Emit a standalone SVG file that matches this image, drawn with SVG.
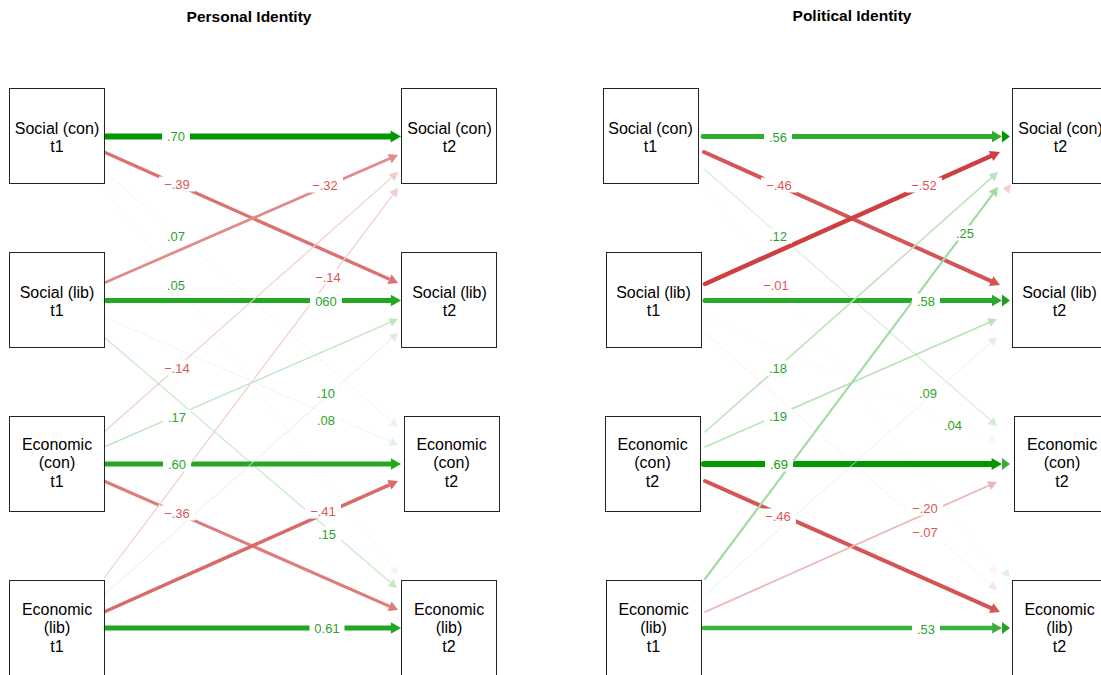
<svg xmlns="http://www.w3.org/2000/svg" width="1101" height="675" viewBox="0 0 1101 675">
<style>
 .node rect{fill:#fff;stroke:#222;stroke-width:1}
 .node text{font-family:"Liberation Sans",Arial,sans-serif;font-size:16px;text-anchor:middle;fill:#000}
 .title{font-family:"Liberation Sans",Arial,sans-serif;font-size:15.5px;font-weight:bold;text-anchor:middle;fill:#000}
 .lbl rect{fill:#fff}
 .lbl text{font-family:"Liberation Sans",Arial,sans-serif;font-size:13px;text-anchor:middle}
 .g{fill:#2ba32b}
 .gd{fill:#139b13}
 .r{fill:#de5656}
 .rc line{stroke-linecap:round}
</style>
<rect width="1101" height="675" fill="#fff"/>
<text class="title" x="249" y="22">Personal Identity</text>
<text class="title" x="852" y="21">Political Identity</text>

<g id="connectors">
 <g id="edges-personal">
  <line x1="104" y1="136.5" x2="391" y2="136.5" stroke="#009900" stroke-width="6"/><polygon points="401,136.5 390.6,130.5 390.6,142.5" fill="#009900"/>
  <line x1="104" y1="152" x2="389.5" y2="279.2" stroke="rgb(219,113,113)" stroke-width="3.34"/><polygon points="398,283 387.4,284 391.6,274.5" fill="rgb(219,113,113)"/>
  <line x1="104" y1="171" x2="391.7" y2="421.6" stroke="rgb(230,245,230)" stroke-width="0.7"/><polygon points="398,427 388.8,424.9 394.6,418.3" fill="rgb(230,245,230)"/>
  <line x1="104" y1="187" x2="393" y2="568.4" stroke="rgb(237,248,237)" stroke-width="0.7"/><polygon points="398,575 389.5,571.1 396.5,565.7" fill="rgb(237,248,237)"/>
  <line x1="104" y1="283" x2="389.7" y2="158.6" stroke="rgb(226,138,138)" stroke-width="2.74"/><polygon points="398,155 391.7,163.2 387.7,154" fill="rgb(226,138,138)"/>
  <line x1="104" y1="300.5" x2="391" y2="300.5" stroke="rgb(36,168,36)" stroke-width="5.14"/><polygon points="401,300.5 390.9,294.8 390.9,306.2" fill="rgb(36,168,36)"/>
  <line x1="104" y1="317" x2="390.4" y2="441.7" stroke="rgb(226,243,226)" stroke-width="0.7"/><polygon points="398,445 388.6,445.7 392.2,437.7" fill="rgb(226,243,226)"/>
  <line x1="104" y1="337" x2="390.5" y2="582.5" stroke="rgb(200,233,200)" stroke-width="1.29"/><polygon points="397,588 387.5,586 393.5,579" fill="rgb(200,233,200)"/>
  <line x1="104" y1="432" x2="391.6" y2="177.6" stroke="rgb(242,204,204)" stroke-width="1.2"/><polygon points="398,172 394.7,181.1 388.6,174.2" fill="rgb(242,204,204)"/>
  <line x1="104" y1="447" x2="390.1" y2="322.4" stroke="rgb(193,230,193)" stroke-width="1.46"/><polygon points="398,319 391.9,326.6 388.3,318.2" fill="rgb(193,230,193)"/>
  <line x1="104" y1="464" x2="391" y2="464" stroke="rgb(36,168,36)" stroke-width="5.14"/><polygon points="401,464 390.9,458.3 390.9,469.7" fill="rgb(36,168,36)"/>
  <line x1="104" y1="481" x2="389.6" y2="606.3" stroke="rgb(222,124,124)" stroke-width="3.09"/><polygon points="398,610 387.5,611 391.6,601.6" fill="rgb(222,124,124)"/>
  <line x1="104" y1="578" x2="392.9" y2="194.8" stroke="rgb(242,204,204)" stroke-width="1.2"/><polygon points="398,188 396.6,197.6 389.2,192" fill="rgb(242,204,204)"/>
  <line x1="104" y1="595" x2="391.8" y2="338.5" stroke="rgb(219,240,219)" stroke-width="0.86"/><polygon points="398,333 394.8,341.9 388.8,335.1" fill="rgb(219,240,219)"/>
  <line x1="104" y1="612" x2="389.4" y2="484.8" stroke="rgb(218,106,106)" stroke-width="3.5"/><polygon points="398,481 391.5,489.6 387.3,480" fill="rgb(218,106,106)"/>
  <line x1="104" y1="628" x2="391" y2="628" stroke="rgb(33,166,33)" stroke-width="5.23"/><polygon points="401,628 390.9,622.2 390.9,633.8" fill="rgb(33,166,33)"/>
 </g>
 <g id="edges-political" class="rc">
  <line x1="703" y1="136.5" x2="992" y2="136.5" stroke="rgb(48,172,48)" stroke-width="4.87"/><polygon points="1002,136.5 992,130.8 992,142.2" fill="rgb(48,172,48)"/><polygon points="1010,136.5 1002,130.5 1002,142.5" fill="#009900"/>
  <line x1="704" y1="152" x2="991.2" y2="281.1" stroke="rgb(212,85,85)" stroke-width="4"/><polygon points="1000,285 989,286 993.4,276.2" fill="rgb(212,85,85)"/>
  <line x1="704" y1="169" x2="990.7" y2="420.5" stroke="rgb(211,237,211)" stroke-width="1.04"/><polygon points="997,426 987.7,423.9 993.7,417.1" fill="rgb(211,237,211)"/>
  <line x1="704" y1="186" x2="992.1" y2="567.5" stroke="rgb(250,244,244)" stroke-width="0.5"/><polygon points="997,574 988.6,570.1 995.5,564.9" fill="rgb(250,244,244)"/>
  <line x1="705" y1="284" x2="991" y2="156" stroke="rgb(207,63,63)" stroke-width="4.52"/><polygon points="1000,152 993.3,161.1 988.8,150.9" fill="rgb(207,63,63)"/>
  <line x1="705" y1="300.5" x2="992" y2="300.5" stroke="rgb(41,169,41)" stroke-width="5.04"/><polygon points="1002,300.5 992,294.8 992,306.2" fill="rgb(41,169,41)"/><polygon points="1010,300.5 1002,294.5 1002,306.5" fill="#1f9f1f"/>
  <line x1="705" y1="317" x2="989.5" y2="439.8" stroke="rgb(240,249,240)" stroke-width="0.6"/><polygon points="997,443 987.7,443.8 991.2,435.7" fill="rgb(240,249,240)"/>
  <line x1="705" y1="333" x2="990.8" y2="584.6" stroke="rgb(249,229,229)" stroke-width="0.61"/><polygon points="997,590 987.9,587.9 993.7,581.3" fill="rgb(249,229,229)"/>
  <line x1="705" y1="432" x2="991.6" y2="177.7" stroke="rgb(188,228,188)" stroke-width="1.57"/><polygon points="998,172 994.7,181.2 988.5,174.2" fill="rgb(188,228,188)"/>
  <line x1="705" y1="447" x2="989" y2="322.5" stroke="rgb(185,227,185)" stroke-width="1.65"/><polygon points="997,319 990.9,326.8 987.1,318.2" fill="rgb(185,227,185)"/>
  <line x1="704" y1="464" x2="991.6" y2="464" stroke="#009900" stroke-width="6"/><polygon points="1002,464 991.6,458 991.6,470" fill="#009900"/><polygon points="1010,464 1002,458 1002,470" fill="#3aae3a"/>
  <line x1="705" y1="481" x2="991.2" y2="608.1" stroke="rgb(212,85,85)" stroke-width="4"/><polygon points="1000,612 989,613 993.4,603.2" fill="rgb(212,85,85)"/>
  <line x1="705" y1="579" x2="992.7" y2="194.1" stroke="rgb(163,218,163)" stroke-width="2.17"/><polygon points="998,187 996.6,197 988.8,191.2" fill="rgb(163,218,163)"/>
  <line x1="705" y1="595" x2="990.8" y2="342.5" stroke="rgb(222,242,222)" stroke-width="0.78"/><polygon points="997,337 993.7,345.8 987.9,339.2" fill="rgb(222,242,222)"/>
  <line x1="705" y1="612" x2="989" y2="485.5" stroke="rgb(236,181,181)" stroke-width="1.74"/><polygon points="997,482 990.9,489.8 987.1,481.2" fill="rgb(236,181,181)"/>
  <line x1="704" y1="628" x2="992.2" y2="628" stroke="rgb(59,177,59)" stroke-width="4.6"/><polygon points="1002,628 992.2,622.4 992.2,633.6" fill="rgb(59,177,59)"/><polygon points="1010,628 1002,622 1002,634" fill="#22a322"/>
  <polygon points="1011,184 1009.4,193.4 1002.4,188.2" fill="rgb(245,205,205)"/>
  <polygon points="1010,578 1001.4,573.8 1008.4,568.6" fill="rgb(225,242,225)"/>
 </g>
 <g id="edge-labels" class="lbl">
  <rect x="162" y="129" width="28" height="15"/><text class="g" x="176" y="141.1">.70</text>
  <rect x="159" y="176.5" width="36" height="15"/><text class="r" x="177" y="188.6">−.39</text>
  <rect x="162" y="228.5" width="28" height="15"/><text class="g" x="176" y="240.6">.07</text>
  <rect x="162" y="277.5" width="28" height="15"/><text class="g" x="176" y="289.6">.05</text>
  <rect x="307" y="177.5" width="36" height="15"/><text class="r" x="325" y="189.6">−.32</text>
  <rect x="310" y="293.5" width="32" height="15"/><text class="g" x="326" y="305.6">060</text>
  <rect x="312" y="412.5" width="28" height="15"/><text class="g" x="326" y="424.6">.08</text>
  <rect x="313" y="526.5" width="28" height="15"/><text class="g" x="327" y="538.6">.15</text>
  <rect x="159" y="360.5" width="36" height="15"/><text class="r" x="177" y="372.6">−.14</text>
  <rect x="163" y="409.5" width="28" height="15"/><text class="g" x="177" y="421.6">.17</text>
  <rect x="163" y="456.5" width="28" height="15"/><text class="g" x="177" y="468.6">.60</text>
  <rect x="159" y="505.5" width="36" height="15"/><text class="r" x="177" y="517.6">−.36</text>
  <rect x="310" y="269.5" width="36" height="15"/><text class="r" x="328" y="281.6">−.14</text>
  <rect x="312" y="385.5" width="28" height="15"/><text class="g" x="326" y="397.6">.10</text>
  <rect x="305" y="503.5" width="36" height="15"/><text class="r" x="323" y="515.6">−.41</text>
  <rect x="309.5" y="620.5" width="35" height="15"/><text class="g" x="327" y="632.6">0.61</text>

  <rect x="764" y="129.5" width="28" height="15"/><text class="g" x="778" y="141.6">.56</text>
  <rect x="761" y="177.5" width="36" height="15"/><text class="r" x="779" y="189.6">−.46</text>
  <rect x="764" y="228.5" width="28" height="15"/><text class="g" x="778" y="240.6">.12</text>
  <rect x="758" y="277.5" width="36" height="15"/><text class="r" x="776" y="289.6">−.01</text>
  <rect x="906" y="177.5" width="36" height="15"/><text class="r" x="924" y="189.6">−.52</text>
  <rect x="912" y="293.5" width="28" height="15"/><text class="g" x="926" y="305.6">.58</text>
  <rect x="939" y="417.5" width="28" height="15"/><text class="g" x="953" y="429.6">.04</text>
  <rect x="907" y="524.5" width="36" height="15"/><text class="r" x="925" y="536.6">−.07</text>
  <rect x="764" y="360.5" width="28" height="15"/><text class="g" x="778" y="372.6">.18</text>
  <rect x="764" y="408.5" width="28" height="15"/><text class="g" x="778" y="420.6">.19</text>
  <rect x="765" y="456.5" width="28" height="15"/><text class="gd" x="779" y="468.6">.69</text>
  <rect x="760" y="508.5" width="36" height="15"/><text class="r" x="778" y="520.6">−.46</text>
  <rect x="951" y="225.5" width="28" height="15"/><text class="g" x="965" y="237.6">.25</text>
  <rect x="914" y="385.5" width="28" height="15"/><text class="g" x="928" y="397.6">.09</text>
  <rect x="907" y="500.5" width="36" height="15"/><text class="r" x="925" y="512.6">−.20</text>
  <rect x="912" y="621.5" width="28" height="15"/><text class="g" x="926" y="633.6">.53</text>
 </g>
</g>

<g id="p-social-con-t1" class="node"><rect x="9.5" y="88.5" width="95" height="95"/><text x="57" y="134">Social (con)</text><text x="57" y="152">t1</text></g>
<g id="p-social-lib-t1" class="node"><rect x="9.5" y="252.5" width="95" height="95"/><text x="57" y="298">Social (lib)</text><text x="57" y="316">t1</text></g>
<g id="p-econ-con-t1" class="node"><rect x="9.5" y="416.5" width="95" height="95"/><text x="57" y="450">Economic</text><text x="57" y="468.3">(con)</text><text x="57" y="486.6">t1</text></g>
<g id="p-econ-lib-t1" class="node"><rect x="9.5" y="580.5" width="95" height="95"/><text x="57" y="615">Economic</text><text x="57" y="633.3">(lib)</text><text x="57" y="651.6">t1</text></g>
<g id="p-social-con-t2" class="node"><rect x="401.5" y="88.5" width="95" height="95"/><text x="449.5" y="134">Social (con)</text><text x="449.5" y="152">t2</text></g>
<g id="p-social-lib-t2" class="node"><rect x="401.5" y="252.5" width="95" height="95"/><text x="449.5" y="298">Social (lib)</text><text x="449.5" y="316">t2</text></g>
<g id="p-econ-con-t2" class="node"><rect x="404.5" y="416.5" width="95" height="95"/><text x="451.5" y="450">Economic</text><text x="451.5" y="468.3">(con)</text><text x="451.5" y="486.6">t2</text></g>
<g id="p-econ-lib-t2" class="node"><rect x="401.5" y="580.5" width="95" height="95"/><text x="449" y="615">Economic</text><text x="449" y="633.3">(lib)</text><text x="449" y="651.6">t2</text></g>

<g id="q-social-con-t1" class="node"><rect x="603.5" y="88.5" width="95" height="95"/><text x="650.5" y="134">Social (con)</text><text x="650.5" y="152">t1</text></g>
<g id="q-social-lib-t1" class="node"><rect x="606.5" y="252.5" width="95" height="95"/><text x="653.5" y="298">Social (lib)</text><text x="653.5" y="316">t1</text></g>
<g id="q-econ-con-t1" class="node"><rect x="605.5" y="416.5" width="95" height="95"/><text x="652.5" y="450">Economic</text><text x="652.5" y="468.3">(con)</text><text x="652.5" y="486.6">t2</text></g>
<g id="q-econ-lib-t1" class="node"><rect x="606.5" y="580.5" width="95" height="95"/><text x="653.5" y="615">Economic</text><text x="653.5" y="633.3">(lib)</text><text x="653.5" y="651.6">t1</text></g>
<g id="q-social-con-t2" class="node"><rect x="1012.5" y="88.5" width="95" height="95"/><text x="1060.5" y="134">Social (con)</text><text x="1060.5" y="152">t2</text></g>
<g id="q-social-lib-t2" class="node"><rect x="1012.5" y="252.5" width="95" height="95"/><text x="1059.5" y="298">Social (lib)</text><text x="1059.5" y="316">t2</text></g>
<g id="q-econ-con-t2" class="node"><rect x="1014.5" y="416.5" width="95" height="95"/><text x="1062" y="450">Economic</text><text x="1062" y="468.3">(con)</text><text x="1062" y="486.6">t2</text></g>
<g id="q-econ-lib-t2" class="node"><rect x="1012.5" y="580.5" width="95" height="95"/><text x="1059.5" y="615">Economic</text><text x="1059.5" y="633.3">(lib)</text><text x="1059.5" y="651.6">t2</text></g>
</svg>
